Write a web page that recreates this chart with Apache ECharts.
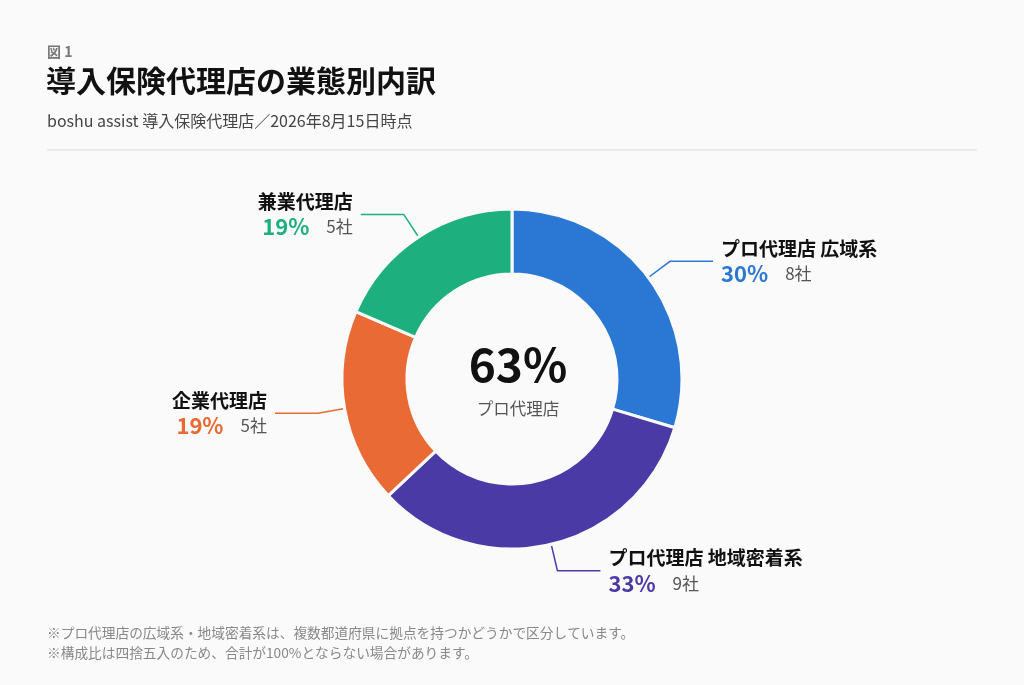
<!DOCTYPE html>
<html>
<head>
<meta charset="utf-8">
<script src="https://cdn.jsdelivr.net/npm/echarts@6/dist/echarts.min.js"></script>
<style>
  html, body { margin: 0; padding: 0; background: #fafafa; }
  #chart { width: 1024px; height: 685px; }
</style>
</head>
<body>
<div id="chart"></div>
<script>
var names = ['プロ代理店 広域系', 'プロ代理店 地域密着系', '企業代理店', '兼業代理店'];
var counts = [8, 9, 5, 5];
var percents = [30, 33, 19, 19];
var colors = ['#2a78d3', '#4a3aa6', '#e96a34', '#1db07e'];
var centerValue = '63%';
var centerLabel = 'プロ代理店';

var font = '"Noto Sans CJK JP", "Noto Sans", sans-serif';

var pieData = names.map(function (n, i) {
  return {
    name: n,
    value: counts[i],
    itemStyle: { color: colors[i] },
    labelLine: { lineStyle: { color: colors[i] } },
    label: {
      rich: {
        name: { fontFamily: font, fontSize: 19, fontWeight: 'bold', color: '#111', lineHeight: 25 },
        pct: { fontFamily: font, fontSize: 22, fontWeight: 'bold', color: colors[i], lineHeight: 25 },
        cnt: { fontFamily: font, fontSize: 17, color: '#555', lineHeight: 25, padding: [0, 0, 0, 17] }
      }
    }
  };
});

var option = {
  backgroundColor: '#fafafa',
  animation: false,
  title: [
    {
      text: '図 1', left: 42, top: 40,
      textStyle: { fontFamily: font, fontSize: 14, fontWeight: 'bold', color: '#777' }
    },
    {
      text: '導入保険代理店の業態別内訳', left: 41, top: 61,
      textStyle: { fontFamily: font, fontSize: 30, fontWeight: 'bold', color: '#111' }
    },
    {
      text: 'boshu assist 導入保険代理店／2026年8月15日時点', left: 42, top: 108,
      textStyle: { fontFamily: font, fontSize: 16, fontWeight: 'normal', color: '#444' }
    },
    {
      text: centerValue, left: 513, top: 337, textAlign: 'center',
      textStyle: { fontFamily: font, fontSize: 46, fontWeight: 'bold', color: '#111' }
    },
    {
      text: centerLabel, left: 513, top: 395, textAlign: 'center',
      textStyle: { fontFamily: font, fontSize: 16.5, fontWeight: 'normal', color: '#555' }
    },
    {
      text: '※プロ代理店の広域系・地域密着系は、複数都道府県に拠点を持つかどうかで区分しています。\n※構成比は四捨五入のため、合計が100%とならない場合があります。',
      left: 42, top: 618,
      textStyle: { fontFamily: font, fontSize: 13.7, fontWeight: 'normal', color: '#888', lineHeight: 20 }
    }
  ],
  graphic: [
    {
      type: 'line',
      shape: { x1: 47, y1: 150, x2: 977, y2: 150 },
      style: { stroke: '#dddddd', lineWidth: 1 }
    }
  ],
  series: [
    {
      type: 'pie',
      center: [512, 379],
      radius: [105, 170],
      startAngle: 90,
      clockwise: true,
      avoidLabelOverlap: false,
      emphasis: { disabled: true },
      itemStyle: { borderColor: '#fafafa', borderWidth: 3 },
      label: {
        show: true,
        position: 'outside',
        distanceToLabelLine: 8,
        formatter: function (p) {
          var i = p.dataIndex;
          return '{name|' + names[i] + '}\n{pct|' + percents[i] + '%}{cnt|' + counts[i] + '社}';
        }
      },
      labelLine: {
        show: true,
        length: 27,
        length2: 43,
        lineStyle: { width: 1.5 }
      },
      data: pieData
    }
  ]
};

var myChart = echarts.init(document.getElementById('chart'));
myChart.setOption(option);
</script>
</body>
</html>
